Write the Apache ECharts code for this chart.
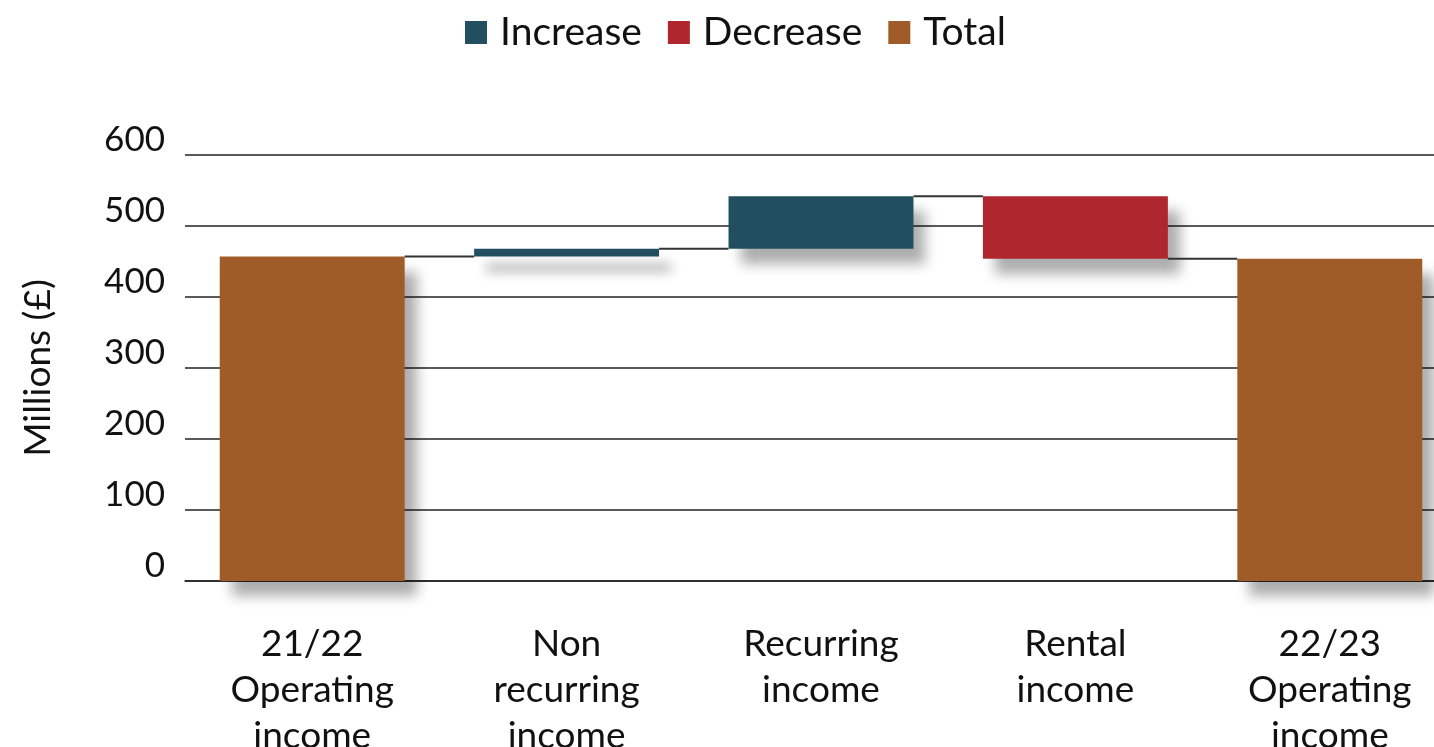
<!DOCTYPE html>
<html>
<head>
<meta charset="utf-8">
<script src="https://cdn.jsdelivr.net/npm/echarts@6/dist/echarts.min.js"></script>
<style>
  html, body { margin: 0; padding: 0; background: #fff; }
  #chart { width: 1434px; height: 747px; }
</style>
</head>
<body>
<div id="chart"></div>
<script>
// waterfall data, millions (£)
var categories = ['21/22\nOperating\nincome', 'Non\nrecurring\nincome', 'Recurring\nincome', 'Rental\nincome', '22/23\nOperating\nincome'];
var totalValues = [457, '-', '-', '-', 454];
var increaseValues = ['-', 11, 74, '-', '-'];
var decreaseValues = ['-', '-', '-', 88, '-'];
var yTicks = [0, 100, 200, 300, 400, 500, 600];

// invisible base under each floating bar + running level after each bar
var baseValues = [];
var levels = [];
var running = 0;
for (var i = 0; i < categories.length; i++) {
  if (totalValues[i] !== '-') {
    running = totalValues[i];
    baseValues.push(0);
  } else if (increaseValues[i] !== '-') {
    baseValues.push(running);
    running += increaseValues[i];
  } else {
    running -= decreaseValues[i];
    baseValues.push(running);
  }
  levels.push(running);
}
var connectorData = [];
for (var j = 0; j < categories.length - 1; j++) {
  connectorData.push([j, levels[j]]);
}

var FONT = 'Lato';
var BAR_RATIO = 0.727;
var shadow = {
  shadowBlur: 12,
  shadowOffsetX: 12,
  shadowOffsetY: 15,
  shadowColor: 'rgba(0,0,0,0.32)'
};

var chart = echarts.init(document.getElementById('chart'));
chart.setOption({
  animation: false,
  textStyle: { fontFamily: FONT },
  legend: {
    data: ['Increase', 'Decrease', 'Total'],
    top: 8,
    left: 460,
    icon: 'rect',
    itemWidth: 22,
    itemHeight: 23,
    itemGap: 26,
    textStyle: { fontFamily: FONT, fontSize: 39, color: '#111', padding: [0, 0, 0, 8] }
  },
  grid: { left: 185, width: 1272, top: 155, bottom: 166, containLabel: false, outerBoundsMode: 'none' },
  xAxis: {
    type: 'category',
    data: categories,
    axisLine: { lineStyle: { color: '#222', width: 1.5 } },
    axisTick: { show: false },
    axisLabel: {
      interval: 0,
      margin: 40,
      fontFamily: FONT,
      fontSize: 37,
      lineHeight: 46,
      color: '#111'
    }
  },
  yAxis: {
    type: 'value',
    min: yTicks[0],
    max: yTicks[yTicks.length - 1],
    interval: 100,
    name: 'Millions (£)',
    nameLocation: 'middle',
    nameGap: 128,
    nameTextStyle: { fontFamily: FONT, fontSize: 37, color: '#111' },
    axisLine: { show: false },
    axisTick: { show: false },
    axisLabel: {
      margin: 20,
      fontFamily: FONT,
      fontSize: 35,
      color: '#111',
      verticalAlign: 'bottom',
      lineHeight: 30
    },
    splitLine: { lineStyle: { color: '#222', width: 1.5 } }
  },
  series: [
    {
      name: 'base',
      type: 'bar',
      stack: 'wf',
      barWidth: (BAR_RATIO * 100) + '%',
      itemStyle: { color: 'transparent' },
      silent: true,
      data: baseValues
    },
    {
      name: 'Increase',
      type: 'bar',
      stack: 'wf',
      itemStyle: Object.assign({ color: '#214f5f' }, shadow),
      data: increaseValues
    },
    {
      name: 'Decrease',
      type: 'bar',
      stack: 'wf',
      itemStyle: Object.assign({ color: '#b0262f' }, shadow),
      data: decreaseValues
    },
    {
      name: 'Total',
      type: 'bar',
      stack: 'wf',
      itemStyle: Object.assign({ color: '#a05c28' }, shadow),
      data: totalValues
    },
    {
      name: 'connector',
      type: 'custom',
      silent: true,
      z: 5,
      data: connectorData,
      renderItem: function (params, api) {
        var p = api.coord([api.value(0), api.value(1)]);
        var band = api.size([1, 0])[0];
        var half = band * BAR_RATIO / 2;
        return {
          type: 'line',
          shape: { x1: p[0] + half, y1: p[1], x2: p[0] + band - half, y2: p[1] },
          style: { stroke: '#333', lineWidth: 2 }
        };
      }
    }
  ]
});
</script>
</body>
</html>
